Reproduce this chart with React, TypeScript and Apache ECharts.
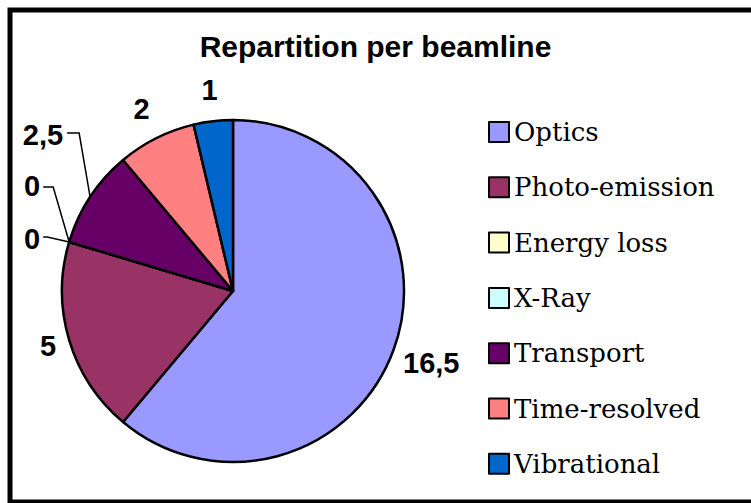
import React, { useEffect, useRef } from "react";
import * as echarts from "echarts";

const titleText = "Repartition per beamline";
const categories = [
  "Optics",
  "Photo-emission",
  "Energy loss",
  "X-Ray",
  "Transport",
  "Time-resolved",
  "Vibrational",
];
const values = [16.5, 5, 0, 0, 2.5, 2, 1];
const colors = ["#9999FF", "#993366", "#FFFFCC", "#CCFFFF", "#660066", "#FF8080", "#0066CC"];

export default function App() {
  const ref = useRef<HTMLDivElement>(null);

  useEffect(() => {
    if (!ref.current) return;
    const chart = echarts.init(ref.current, null, { renderer: "svg" });

    const cx = 233;
    const cy = 291;
    const r = 171;
    const total = values.reduce((a, b) => a + b, 0);
    const mids: number[] = [];
    let acc = 0;
    values.forEach((v) => {
      mids.push(((acc + v / 2) / total) * Math.PI * 2);
      acc += v;
    });

    // radial distance of label centre for labels without leader lines
    const labelDist = [211, 193, 0, 0, 0, 204, 202];
    // leader line geometry relative to the slice's edge point
    const leaders: Record<number, { elbow: number[]; end: number[]; label: number[] }> = {
      2: { elbow: [-22, -5], end: [-26, -5], label: [-29, -3] },
      3: { elbow: [-16, -55], end: [-26, -55], label: [-29, -56] },
      4: { elbow: [-11, -64], end: [-23, -64], label: [-27, -62] },
    };

    const labelLayout = (params: any) => {
      const i = params.dataIndex;
      const a = mids[i];
      const dx = Math.sin(a);
      const dy = -Math.cos(a);
      const L = leaders[i];
      if (L) {
        const ex = cx + r * dx;
        const ey = cy + r * dy;
        return {
          x: ex + L.label[0],
          y: ey + L.label[1],
          align: "right",
          verticalAlign: "middle",
          labelLinePoints: [
            [ex, ey],
            [ex + L.elbow[0], ey + L.elbow[1]],
            [ex + L.end[0], ey + L.end[1]],
          ],
        };
      }
      const d = labelDist[i];
      return {
        x: cx + d * dx,
        y: cy + d * dy,
        align: "center",
        verticalAlign: "middle",
      };
    };

    const option: any = {
      animation: false,
      backgroundColor: "#ffffff",
      title: {
        text: titleText,
        left: "center",
        top: 31,
        padding: 0,
        textStyle: {
          fontFamily: "Liberation Sans, Arial, sans-serif",
          fontWeight: "bold",
          fontSize: 30,
          color: "#000",
        },
      },
      legend: {
        orient: "vertical",
        left: 488,
        top: 119,
        height: 380,
        padding: 0,
        itemWidth: 20,
        itemHeight: 20,
        itemGap: 29.3,
        icon: "rect",
        selectedMode: false,
        itemStyle: { borderColor: "#000", borderWidth: 2 },
        textStyle: {
          fontFamily: "DejaVu Serif, serif",
          fontSize: 26,
          color: "#000",
        },
        data: categories,
      },
      graphic: [
        {
          type: "rect",
          silent: true,
          shape: { x: 10, y: 10, width: 800, height: 492 },
          style: { fill: "none", stroke: "#000", lineWidth: 5 },
        },
      ],
      series: [
        {
          type: "pie",
          center: [cx, cy],
          radius: r,
          startAngle: 90,
          clockwise: true,
          avoidLabelOverlap: false,
          itemStyle: { borderColor: "#000", borderWidth: 2.5 },
          emphasis: { disabled: true },
          label: {
            show: true,
            position: "outside",
            formatter: (p: any) => String(p.value).replace(".", ","),
            fontFamily: "Liberation Sans, Arial, sans-serif",
            fontWeight: "bold",
            fontSize: 29,
            color: "#000",
          },
          labelLine: { show: false, lineStyle: { color: "#000", width: 1.5 } },
          labelLayout,
          data: categories.map((name, i) => ({
            name,
            value: values[i],
            itemStyle: { color: colors[i] },
            labelLine: { show: !!leaders[i] },
          })),
        },
      ],
    };

    chart.setOption(option);
    return () => chart.dispose();
  }, []);

  return (
    <div
      ref={ref}
      style={{ position: "absolute", left: 0, top: 0, width: 751, height: 503, background: "#fff" }}
    />
  );
}
